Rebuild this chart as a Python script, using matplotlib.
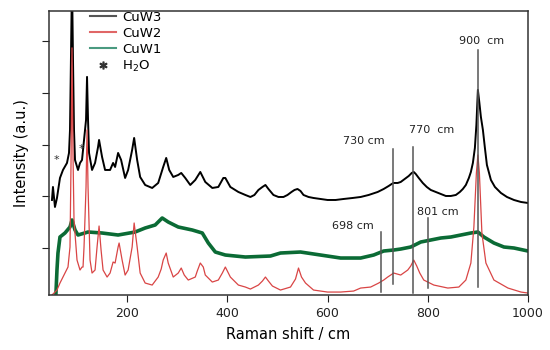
import matplotlib.pyplot as plt
from matplotlib.lines import Line2D

# CuW3 (black) - Raman shift / cm-1, intensity (a.u.)
cuw3_x = [50, 52, 56, 60, 66, 72, 80, 84, 86, 88, 90, 92, 94, 96, 102, 106, 110, 114, 118,
          120, 122, 124, 130, 136, 142, 144, 150, 156, 166, 172, 176, 182, 188, 196, 202,
          210, 214, 220, 226, 236, 250, 262, 272, 278, 284, 292, 302, 308, 316, 326, 336,
          346, 356, 370, 382, 392, 396, 406, 422, 436, 446, 454, 462, 470, 476, 482,
          492, 502, 512, 520, 528, 534, 540, 546, 552, 562, 572, 586, 600, 616, 632, 650,
          666, 682, 700, 712, 722, 728, 732, 740, 746, 754, 762, 768, 772, 776, 782, 790,
          798, 806, 816, 826, 836, 846, 856, 864, 870, 876, 882, 886, 890, 894, 897, 900,
          903, 906, 910, 914, 918, 926, 934, 946, 958, 972, 986, 1000]
cuw3_y = [95, 108, 88, 97, 117, 125, 132, 142, 165, 240, 315, 235, 165, 135, 125, 132, 135,
          155, 175, 218, 175, 142, 125, 132, 148, 155, 138, 125, 125, 132, 128, 142, 135,
          117, 125, 145, 157, 135, 118, 110, 107, 112, 128, 137, 125, 118, 120, 122, 117,
          110, 115, 123, 113, 107, 108, 117, 117, 108, 103, 100, 98, 100, 105, 108,
          110, 106, 100, 98, 98, 100, 103, 105, 106, 104, 100, 98, 97, 96, 95, 95, 96, 97,
          98, 100, 103, 106, 109, 111, 112, 112, 113, 116, 119, 122, 123, 121, 117, 112,
          108, 105, 103, 101, 99, 99, 100, 103, 106, 110, 117, 123, 132, 147, 170, 205,
          192, 178, 165, 147, 130, 115, 108, 102, 98, 95, 93, 92]

# CuW2 (red)
cuw2_x = [50, 60, 66, 76, 82, 86, 88, 90, 92, 94, 100, 106, 110, 112, 114, 118, 120, 122,
          126, 130, 136, 140, 144, 148, 152, 160, 166, 172, 176, 182, 184, 190, 196, 202,
          210, 214, 220, 226, 236, 250, 262, 268, 272, 278, 282, 292, 302, 308, 314, 322,
          336, 340, 346, 352, 356, 370, 382, 390, 396, 402, 406, 422, 436, 446, 462, 470,
          476, 482, 490, 506, 526, 536, 542, 548, 556, 572, 600, 626, 652, 666, 686, 702,
          712, 720, 732, 746, 760, 766, 772, 778, 784, 792, 812, 840, 862, 876, 886, 892,
          897, 900, 903, 908, 916, 932, 960, 986, 1000]
cuw2_y = [0, 5, 12, 22, 28, 48, 130, 247, 140, 75, 35, 25, 28, 28, 48, 108, 165, 108, 35,
          22, 25, 48, 69, 45, 25, 18, 22, 33, 32, 48, 52, 35, 20, 25, 48, 72, 48, 22, 12,
          10, 18, 26, 35, 42, 32, 18, 22, 27, 20, 15, 18, 24, 32, 28, 20, 13, 15, 22, 28,
          22, 18, 10, 8, 6, 10, 14, 18, 14, 9, 5, 8, 16, 27, 18, 12, 5, 3, 3, 4, 7, 8, 12,
          15, 18, 22, 20, 25, 29, 35, 29, 22, 15, 10, 7, 8, 15, 32, 68, 122, 140, 122, 62,
          32, 15, 7, 3, 2]

# CuW1 (green)
cuw1_x = [58, 60, 62, 66, 76, 86, 90, 96, 102, 122, 150, 182, 216, 236, 256, 270, 282,
          302, 330, 350, 362, 376, 396, 436, 486, 506, 546, 586, 626, 666,
          692, 712, 732, 746, 766, 786, 806, 826, 846, 866, 886, 900, 912, 932, 952, 972,
          1000]
cuw1_y = [2, 25, 42, 58, 62, 68, 75, 65, 60, 63, 62, 60, 63, 67, 70, 77, 73, 68, 65, 62,
          52, 43, 40, 38, 39, 42, 43, 40, 37, 37, 40, 44, 45, 46, 48, 53, 55,
          57, 58, 60, 62, 63, 58, 52, 48, 47, 44]

# marked bands: line position, label, line bottom, line top, label x, label y
band_pos = [706, 731, 771, 801, 900]
band_lab = ['698 cm', '730 cm', '770  cm', '801 cm', '900  cm']
band_lo = [3, 11, 2, 7, 8]
band_hi = [63, 146, 148, 77, 245]
band_tx = [650, 672, 808, 820, 908]
band_ty = [69, 154, 165, 83, 254]

water_x = [58, 108]
water_y = [135, 146]

fig = plt.figure(figsize=(5.5, 3.5), dpi=100)
ax = fig.add_axes([0.089, 0.157, 0.871, 0.812])

ax.plot(cuw1_x, cuw1_y, color='#0b6b35', lw=2.6)
ax.plot(cuw3_x, cuw3_y, color='black', lw=1.4)
ax.plot(cuw2_x, cuw2_y, color='#d94545', lw=0.9)

for p, lab, lo, hi, tx, ty in zip(band_pos, band_lab, band_lo, band_hi, band_tx, band_ty):
    ax.plot([p, p], [lo, hi], color='#555555', lw=1.1)
    ax.text(tx, ty, lab, fontsize=8, ha='center', va='center', color='#222222')

for wx, wy in zip(water_x, water_y):
    ax.text(wx, wy, '*', fontsize=8, ha='center', va='center', color='#333333')

ax.set_xlim(44, 1000)
ax.set_ylim(0, 284)
ax.set_xticks([200, 400, 600, 800, 1000])
ax.set_yticks([47, 99, 150, 202, 254])
ax.set_yticklabels([])
ax.tick_params(direction='out', length=5, labelsize=9, colors='#222222')
for s in ax.spines.values():
    s.set_linewidth(1.1)
    s.set_color('#333333')

ax.set_xlabel('Raman shift / cm', fontsize=10.5, labelpad=5)
ax.set_ylabel('Intensity (a.u.)', fontsize=10.5, labelpad=6)

handles = [Line2D([], [], color='#555555', lw=1.5),
           Line2D([], [], color='#e06666', lw=1.5),
           Line2D([], [], color='#4a9a80', lw=1.5),
           Line2D([], [], color='#333333', lw=0, marker='$*$', markersize=5)]
ax.legend(handles, ['CuW3', 'CuW2', 'CuW1', 'H$_2$O'], loc='upper left',
          bbox_to_anchor=(0.0856, 1.0), borderaxespad=0, borderpad=0,
          frameon=False, fontsize=9.5, handlelength=2.0, handletextpad=0.45,
          labelspacing=0.22)

fig.savefig('out.png')
